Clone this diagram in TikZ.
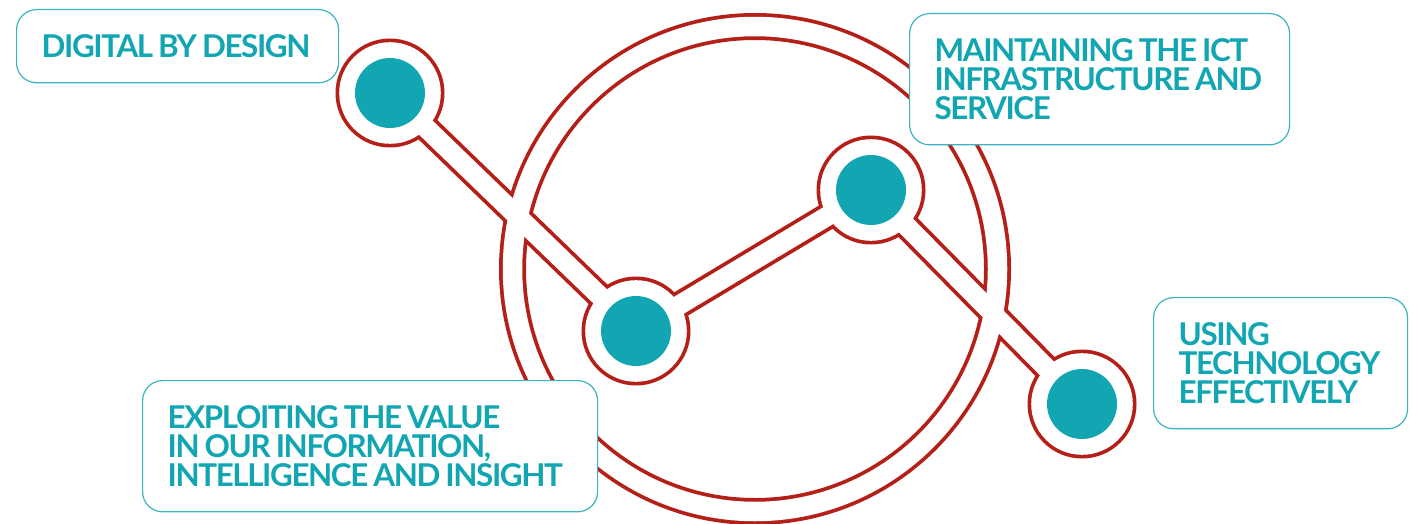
\documentclass[tikz,border=0pt]{standalone}
\usepackage{fontspec}
\setmainfont{Lato}[LetterSpace=-4.5]
\definecolor{ringred}{RGB}{180,32,24}
\definecolor{dotteal}{RGB}{17,166,178}
\definecolor{boxteal}{RGB}{60,180,192}

\begin{document}
\begin{tikzpicture}[x=1pt,y=-1pt,
  redpass/.style={draw=ringred,line width=27pt},
  whitepass/.style={draw=white,line width=19.5pt},
  tag/.style={draw=boxteal,line width=1.2pt,fill=white,rounded corners=20pt,
    anchor=north west,inner sep=25pt,align=left,text=dotteal,
    font=\fontsize{31.4}{29}\selectfont\bfseries,
    execute at begin node={\spaceskip=5pt\relax\hyphenpenalty=10000\relax}}]
  \useasboundingbox (0,0) rectangle (1413,524);
  \coordinate (mid) at (755,269);
  \coordinate (h1) at (390,93);
  \coordinate (h2) at (636,331);
  \coordinate (h3) at (871,190);
  \coordinate (h4) at (1082,404);
  % outline of ring, links and hubs
  \draw[redpass] (mid) circle (242.5pt);
  \draw[redpass] (h1) -- (h2) -- (h3) -- (h4);
  \foreach \h in {h1,h2,h3,h4}
    \fill[ringred] (\h) circle (54.5pt);
  \draw[whitepass] (mid) circle (242.5pt);
  \draw[whitepass] (h1) -- (h2) -- (h3) -- (h4);
  \foreach \h in {h1,h2,h3,h4}
    \fill[white] (\h) circle (50.8pt);
  \foreach \h in {h1,h2,h3,h4}
    \fill[dotteal] (\h) circle (35pt);
  % labels
  \node[tag,text width=272pt,minimum height=72pt] (design) at (16,9)
    {DIGITAL BY DESIGN};
  \node[tag,text width=330pt,minimum height=131pt] (ict) at (909,13)
    {MAINTAINING THE ICT\\INFRASTRUCTURE AND\\SERVICE};
  \node[tag,text width=204pt,minimum height=130pt] (tech) at (1153,297)
    {USING\\TECHNOLOGY\\EFFECTIVELY};
  \node[tag,text width=405pt,minimum height=130pt] (value) at (142,380)
    {EXPLOITING THE VALUE\\IN OUR INFORMATION,\\INTELLIGENCE AND INSIGHT};
\end{tikzpicture}
\end{document}
